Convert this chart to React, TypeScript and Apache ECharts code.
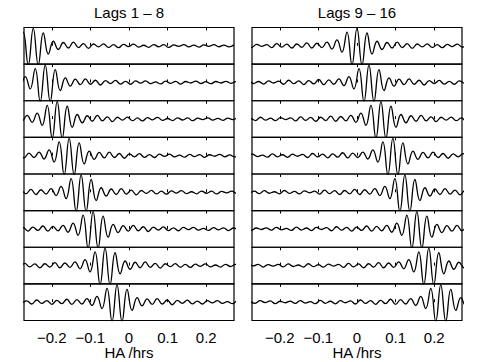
import React, { useEffect, useRef } from 'react';
import * as echarts from 'echarts';

const PANEL_TITLES = ['Lags 1 – 8', 'Lags 9 – 16'];
// centre (HA, hrs) of the main fringe packet for each lag 1..16
const LAG_CENTERS = [
  -0.248, -0.217, -0.186, -0.155, -0.124, -0.093, -0.062, -0.031,
  0.0, 0.031, 0.062, 0.093, 0.124, 0.155, 0.186, 0.217,
];
// fringe waveform sampled every half period, relative to packet centre
const WAVE_STEP = 0.013;
const WAVE_START = -38;
const WAVE = [
  0.05, -0.06, 0.08, -0.02, 0.07, -0.08, 0.05, -0.03, 0.06, -0.07,
  0.09, -0.05, 0.03, -0.08, 0.1, -0.06, 0.05, -0.09, 0.08, -0.03,
  0.07, -0.1, 0.12, -0.07, 0.09, -0.12, 0.1, -0.08, 0.16, -0.12,
  0.14, -0.1, 0.2, -0.18, 0.32, -0.35, 0.75, -1.05, 0.95, -1.05,
  0.7, -0.45, 0.25, -0.2, 0.18, -0.12, 0.2, -0.1, 0.12, -0.14,
  0.1, -0.06, 0.11, -0.09, 0.06, -0.1, 0.08, -0.04, 0.09, -0.07,
  0.03, -0.08, 0.07, -0.05, 0.06, -0.09, 0.05, -0.03, 0.07, -0.06,
  0.04, -0.07, 0.05, -0.03, 0.06, -0.05, 0.04, -0.06, 0.05,
];
const X_TICKS = [-0.2, -0.1, 0, 0.1, 0.2];
const X_MIN = -0.272;
const X_MAX = 0.272;
const X_NAME = 'HA /hrs';

const FONT = 'Liberation Sans, Arial, Helvetica, sans-serif';

export default function App() {
  const ref = useRef<HTMLDivElement>(null);
  useEffect(() => {
    const chart = echarts.init(ref.current!, null, { renderer: 'svg' });
    const panelLeft = [24, 252];
    const width = 210;
    const top0 = 27.5;
    const rowH = 36.625;
    const grids: any[] = [];
    const xAxes: any[] = [];
    const yAxes: any[] = [];
    const series: any[] = [];
    const fmt = (v: number) => (v < 0 ? '\u2212' + Math.abs(v) : String(v));
    for (let k = 0; k < 16; k++) {
      const p = k < 8 ? 0 : 1;
      const r = k % 8;
      const isBottom = r === 7;
      grids.push({
        left: panelLeft[p],
        top: top0 + r * rowH,
        width,
        height: rowH,
        show: true,
        borderColor: '#000',
        borderWidth: 1.2,
        backgroundColor: 'transparent',
      });
      xAxes.push({
        type: 'value',
        gridIndex: k,
        position: 'bottom',
        min: X_MIN,
        max: X_MAX,
        axisLine: { show: false },
        axisTick: { show: true, inside: true, length: 3, customValues: X_TICKS, lineStyle: { color: '#000' } },
        axisLabel: {
          show: isBottom,
          customValues: X_TICKS,
          formatter: fmt,
          margin: 9,
          fontSize: 15,
          color: '#000',
          fontFamily: FONT,
        },
        splitLine: { show: false },
        name: isBottom ? X_NAME : '',
        nameLocation: 'middle',
        nameGap: 24,
        nameTextStyle: { fontSize: 15, color: '#000', fontFamily: FONT },
      });
      xAxes.push({
        type: 'value',
        gridIndex: k,
        position: 'top',
        min: X_MIN,
        max: X_MAX,
        axisLine: { show: false },
        axisTick: { show: true, inside: true, length: 3, customValues: X_TICKS, lineStyle: { color: '#000' } },
        axisLabel: { show: false },
        splitLine: { show: false },
      });
      yAxes.push({ type: 'value', gridIndex: k, min: -1, max: 1, show: false });
      series.push({
        type: 'line',
        xAxisIndex: 2 * k,
        yAxisIndex: k,
        data: WAVE.map((v, i) => [LAG_CENTERS[k] + (WAVE_START + i) * WAVE_STEP, v]),
        showSymbol: false,
        symbol: 'none',
        smooth: 0.45,
        clip: true,
        silent: true,
        lineStyle: { color: '#000', width: 1.3 },
      });
    }
    chart.setOption({
      animation: false,
      backgroundColor: '#fff',
      grid: grids,
      xAxis: xAxes,
      yAxis: yAxes,
      series,
      graphic: PANEL_TITLES.map((t, p) => ({
        type: 'text',
        x: panelLeft[p] + width / 2,
        y: 12,
        style: {
          text: t,
          fontSize: 15,
          fontFamily: FONT,
          fill: '#000',
          align: 'center',
          verticalAlign: 'middle',
        },
      })),
    });
    return () => chart.dispose();
  }, []);
  return (
    <div
      ref={ref}
      style={{ position: 'fixed', left: 0, top: 0, width: 485, height: 362 }}
    />
  );
}
